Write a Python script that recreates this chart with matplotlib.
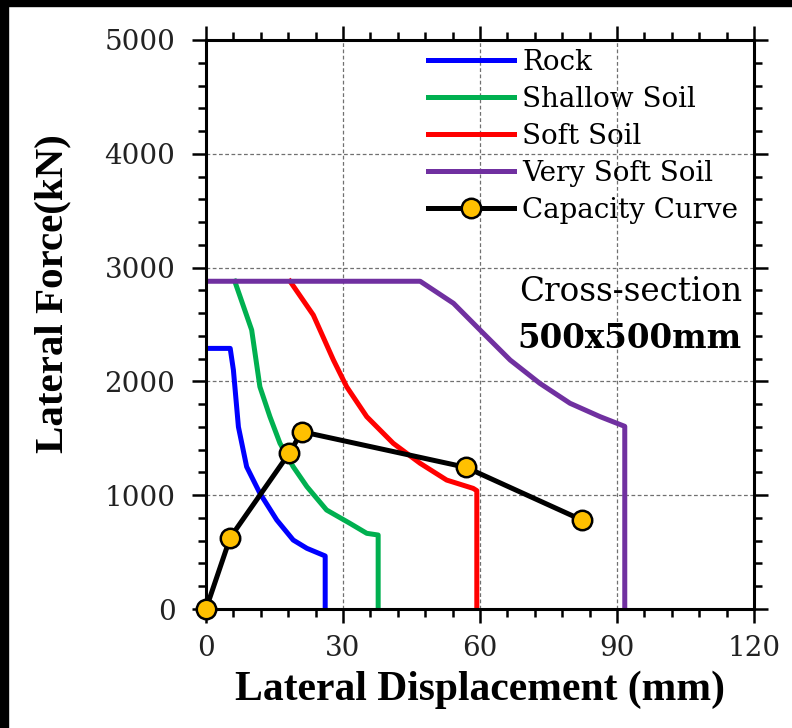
import matplotlib
matplotlib.use("Agg")
import matplotlib.pyplot as plt
from matplotlib.patches import Rectangle
from matplotlib.ticker import MultipleLocator

# curves (displacement mm, force kN)
rock_x = [0, 5.3, 6.0, 7.1, 8.9, 11.8, 15.5, 19.1, 22.1, 26.1, 26.1]
rock_y = [2290, 2290, 2100, 1600, 1250, 1017, 782, 606, 533, 466, 0]

shallow_x = [6.3, 10.0, 11.8, 14.0, 16.2, 19.1, 22.1, 26.4, 31.5, 35.2, 37.7, 37.7]
shallow_y = [2880, 2452, 1953, 1690, 1456, 1250, 1075, 870, 753, 665, 650, 0]

soft_x = [18.4, 23.5, 27.9, 30.8, 35.2, 41.0, 46.9, 52.7, 58.5, 59.3, 59.3]
soft_y = [2880, 2583, 2188, 1953, 1690, 1456, 1280, 1133, 1060, 1040, 0]

vsoft_x = [0, 46.9, 54.2, 60.0, 66.6, 73.1, 79.7, 86.3, 91.7, 91.7]
vsoft_y = [2880, 2880, 2686, 2452, 2188, 1983, 1808, 1690, 1605, 0]

cap_x = [0, 5.3, 18.2, 21.0, 56.9, 82.3]
cap_y = [0, 627, 1368, 1558, 1245, 782]

x_ticks = [0, 30, 60, 90, 120]
y_ticks = [0, 1000, 2000, 3000, 4000, 5000]

fig = plt.figure(figsize=(7.92, 7.28), dpi=100)
ax = fig.add_axes([206 / 792, 119 / 728, 548 / 792, 569 / 728])

lw = 3.6
ax.plot(rock_x, rock_y, color="#0000FF", lw=lw, label="Rock")
ax.plot(shallow_x, shallow_y, color="#00B050", lw=lw, label="Shallow Soil")
ax.plot(soft_x, soft_y, color="#FF0000", lw=lw, label="Soft Soil")
ax.plot(vsoft_x, vsoft_y, color="#7030A0", lw=lw, label="Very Soft Soil")
ax.plot(cap_x, cap_y, color="black", lw=3.6, marker="o", ms=14,
        mfc="#FFC000", mec="black", mew=1.8, label="Capacity Curve",
        clip_on=False, zorder=5)

ax.set_xlim(0, 120)
ax.set_ylim(0, 5000)
ax.set_xticks(x_ticks)
ax.set_yticks(y_ticks)
ax.xaxis.set_minor_locator(MultipleLocator(6))
ax.yaxis.set_minor_locator(MultipleLocator(200))
ax.grid(True, which="major", ls=(0, (3, 2)), color="#707070", lw=0.9)

for s in ax.spines.values():
    s.set_linewidth(2.2)
ax.tick_params(which="both", direction="out", top=True, right=True,
               width=1.8, labelsize=20)
ax.tick_params(which="major", length=10)
ax.tick_params(which="minor", length=6)
ax.tick_params(axis="y", which="major", pad=12)
ax.tick_params(axis="x", which="major", pad=9)
for t in ax.get_xticklabels() + ax.get_yticklabels():
    t.set_family("DejaVu Serif")
    t.set_color("#222222")

ax.set_xlabel("Lateral Displacement (mm)", family="Liberation Serif",
              weight="bold", fontsize=30, labelpad=6)
ax.set_ylabel("Lateral Force(kN)", family="Liberation Serif",
              weight="bold", fontsize=29.5)
ax.yaxis.set_label_coords(-0.245, 0.555)

ax.legend(loc="upper left", bbox_to_anchor=(0.405, 0.984), frameon=False,
          borderpad=0, borderaxespad=0, handlelength=3.1, handletextpad=0.3,
          labelspacing=0.36, prop={"family": "DejaVu Serif", "size": 20})

ax.text(0.978, 0.557, "Cross-section", transform=ax.transAxes, ha="right",
        va="center", family="DejaVu Serif", fontsize=23.5)
ax.text(0.978, 0.476, "500x500mm", transform=ax.transAxes, ha="right",
        va="center", family="DejaVu Serif", weight="bold", fontsize=23.5)

# black frame strips at top and left of the original image
fig.patches.append(Rectangle((0, 1 - 6 / 728), 1, 6 / 728, color="black",
                             transform=fig.transFigure, figure=fig))
fig.patches.append(Rectangle((0, 0), 8 / 792, 1, color="black",
                             transform=fig.transFigure, figure=fig))

fig.savefig("out.png", dpi=100)
